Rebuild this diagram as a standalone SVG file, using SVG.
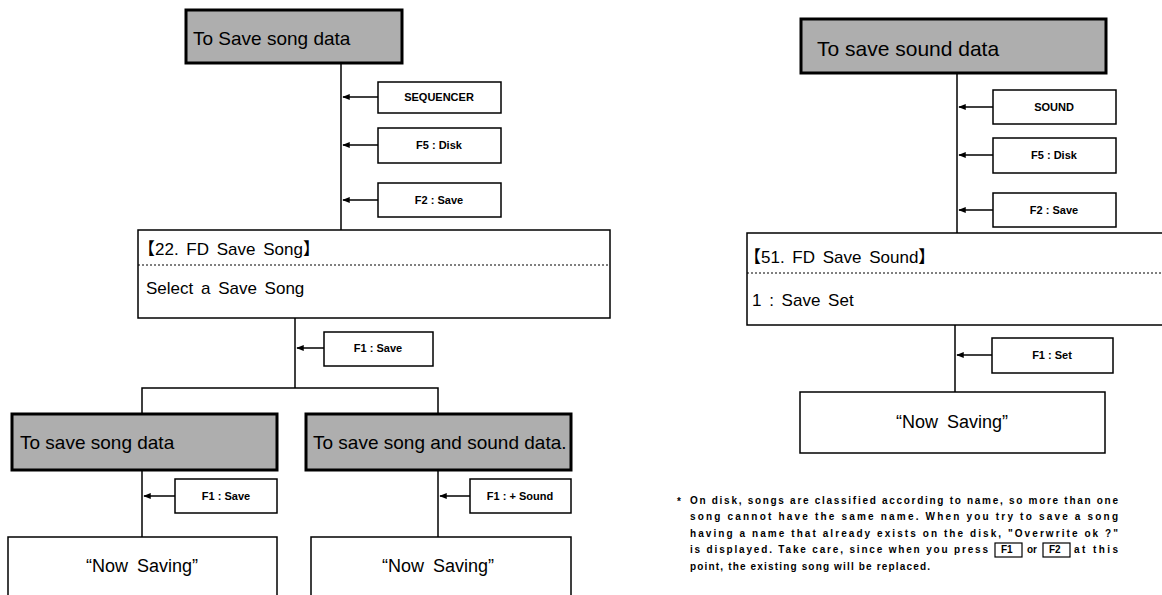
<svg xmlns="http://www.w3.org/2000/svg" width="1162" height="595" viewBox="0 0 1162 595">
<defs>
<style>
.title{fill:#aeaeae;stroke:#000;stroke-width:3}
.tt{font-family:"Liberation Sans",Arial,sans-serif;font-size:19px;fill:#000}
.key{fill:#fff;stroke:#000;stroke-width:1.5}
.kt{font-family:"Liberation Sans",Arial,sans-serif;font-size:11px;font-weight:bold;fill:#000;text-anchor:middle}
.box{fill:#fff;stroke:#000;stroke-width:1.5}
.bt{font-family:"Liberation Sans","Noto Sans CJK JP",Arial,sans-serif;font-size:17px;fill:#000;word-spacing:3px}
.ct{font-family:"Liberation Sans",Arial,sans-serif;font-size:18px;fill:#000;text-anchor:middle;word-spacing:4px}
.ln{stroke:#000;stroke-width:1.5;fill:none}
.ar{stroke:#000;stroke-width:1.5;fill:none;marker-end:url(#ah)}
.dot{stroke:#000;stroke-width:1;stroke-dasharray:2 2}
.note{font-family:"Liberation Sans",Arial,sans-serif;font-size:10px;font-weight:bold;fill:#000}
.nb{fill:none;stroke:#000;stroke-width:1.2}
</style>
<marker id="ah" viewBox="0 0 10 10" refX="9" refY="5" markerWidth="5" markerHeight="5" orient="auto">
<path d="M0,1 L10,5 L0,9 Z" fill="#000"/>
</marker>
</defs>
<rect width="1162" height="595" fill="#fff"/>

<g id="connectors">
<line class="ln" x1="341" y1="63" x2="341" y2="230"/>
<line class="ar" x1="378" y1="97" x2="343" y2="97"/>
<line class="ar" x1="378" y1="145" x2="343" y2="145"/>
<line class="ar" x1="378" y1="200" x2="343" y2="200"/>
<line class="ln" x1="295" y1="318" x2="295" y2="388"/>
<line class="ar" x1="324" y1="348" x2="297" y2="348"/>
<polyline class="ln" points="142,414 142,388 438,388 438,414"/>
<line class="ln" x1="142" y1="470" x2="142" y2="537"/>
<line class="ar" x1="175" y1="496" x2="144" y2="496"/>
<line class="ln" x1="438" y1="470" x2="438" y2="537"/>
<line class="ar" x1="470" y1="496" x2="440" y2="496"/>
<line class="ln" x1="957" y1="73" x2="957" y2="233"/>
<line class="ar" x1="993" y1="107" x2="959" y2="107"/>
<line class="ar" x1="993" y1="155" x2="959" y2="155"/>
<line class="ar" x1="993" y1="210" x2="959" y2="210"/>
<line class="ln" x1="955" y1="325" x2="955" y2="392"/>
<line class="ar" x1="992" y1="355" x2="957" y2="355"/>
</g>

<g id="title-save-song">
<rect class="title" x="186" y="10" width="216" height="53"/>
<text class="tt" x="193" y="45">To Save song data</text>
</g>
<g id="key-sequencer">
<rect class="key" x="378" y="82" width="123" height="31"/>
<text class="kt" x="439" y="101">SEQUENCER</text>
</g>
<g id="key-f5-disk">
<rect class="key" x="378" y="128" width="123" height="35"/>
<text class="kt" x="439" y="149">F5 : Disk</text>
</g>
<g id="key-f2-save">
<rect class="key" x="378" y="183" width="123" height="34"/>
<text class="kt" x="439" y="204">F2 : Save</text>
</g>
<g id="screen-22">
<rect class="box" x="138" y="230" width="472" height="88"/>
<line class="dot" x1="138" y1="265" x2="610" y2="265"/>
<text class="bt" x="138" y="255">【22. FD Save Song】</text>
<text class="bt" x="146" y="294">Select a Save Song</text>
</g>
<g id="key-f1-save-a">
<rect class="key" x="324" y="332" width="109" height="34"/>
<text class="kt" x="378" y="352">F1 : Save</text>
</g>
<g id="title-song-data">
<rect class="title" x="12" y="414" width="265" height="56"/>
<text class="tt" x="20" y="449">To save song data</text>
</g>
<g id="title-song-sound-data">
<rect class="title" x="306" y="414" width="265" height="56"/>
<text class="tt" x="313" y="449">To save song and sound data.</text>
</g>
<g id="key-f1-save-b">
<rect class="key" x="175" y="479" width="102" height="34"/>
<text class="kt" x="226" y="500">F1 : Save</text>
</g>
<g id="key-f1-sound">
<rect class="key" x="470" y="479" width="101" height="34"/>
<text class="kt" x="520" y="500">F1 : + Sound</text>
</g>
<g id="now-saving-a">
<rect class="box" x="8" y="537" width="269" height="70"/>
<text class="ct" x="142" y="572">“Now Saving”</text>
</g>
<g id="now-saving-b">
<rect class="box" x="311" y="537" width="260" height="70"/>
<text class="ct" x="438" y="572">“Now Saving”</text>
</g>

<g id="title-save-sound">
<rect class="title" x="801" y="19" width="305" height="54"/>
<text class="tt" x="817" y="56" style="font-size:21px">To save sound data</text>
</g>
<g id="key-sound">
<rect class="key" x="993" y="90" width="123" height="34"/>
<text class="kt" x="1054" y="111">SOUND</text>
</g>
<g id="key-f5-disk-b">
<rect class="key" x="993" y="138" width="123" height="35"/>
<text class="kt" x="1054" y="159">F5 : Disk</text>
</g>
<g id="key-f2-save-b">
<rect class="key" x="993" y="193" width="123" height="34"/>
<text class="kt" x="1054" y="214">F2 : Save</text>
</g>
<g id="screen-51">
<rect class="box" x="747" y="233" width="420" height="92"/>
<line class="dot" x1="747" y1="273" x2="1162" y2="273"/>
<text class="bt" x="744" y="263">【51. FD Save Sound】</text>
<text class="bt" x="752" y="306">1 : Save Set</text>
</g>
<g id="key-f1-set">
<rect class="key" x="992" y="338" width="121" height="35"/>
<text class="kt" x="1052" y="359">F1 : Set</text>
</g>
<g id="now-saving-c">
<rect class="box" x="800" y="392" width="305" height="61"/>
<text class="ct" x="952" y="428">“Now Saving”</text>
</g>

<g id="note">
<text class="note" x="677" y="505">*</text>
<text class="note" x="690" y="504" textLength="428" lengthAdjust="spacing">On disk, songs are classified according to name, so more than one</text>
<text class="note" x="690" y="520" textLength="428" lengthAdjust="spacing">song cannot have the same name. When you try to save a song</text>
<text class="note" x="690" y="537" textLength="428" lengthAdjust="spacing">having a name that already exists on the disk, "Overwrite ok ?"</text>
<text class="note" x="690" y="553" textLength="298" lengthAdjust="spacing">is displayed. Take care, since when you press</text>
<rect class="nb" x="995" y="543" width="27" height="14"/>
<text class="note" x="1001" y="553">F1</text>
<text class="note" x="1027" y="553">or</text>
<rect class="nb" x="1043" y="543" width="27" height="14"/>
<text class="note" x="1049" y="553">F2</text>
<text class="note" x="1074" y="553" textLength="44" lengthAdjust="spacing">at this</text>
<text class="note" x="690" y="570" textLength="240" lengthAdjust="spacing">point, the existing song will be replaced.</text>
</g>
</svg>
